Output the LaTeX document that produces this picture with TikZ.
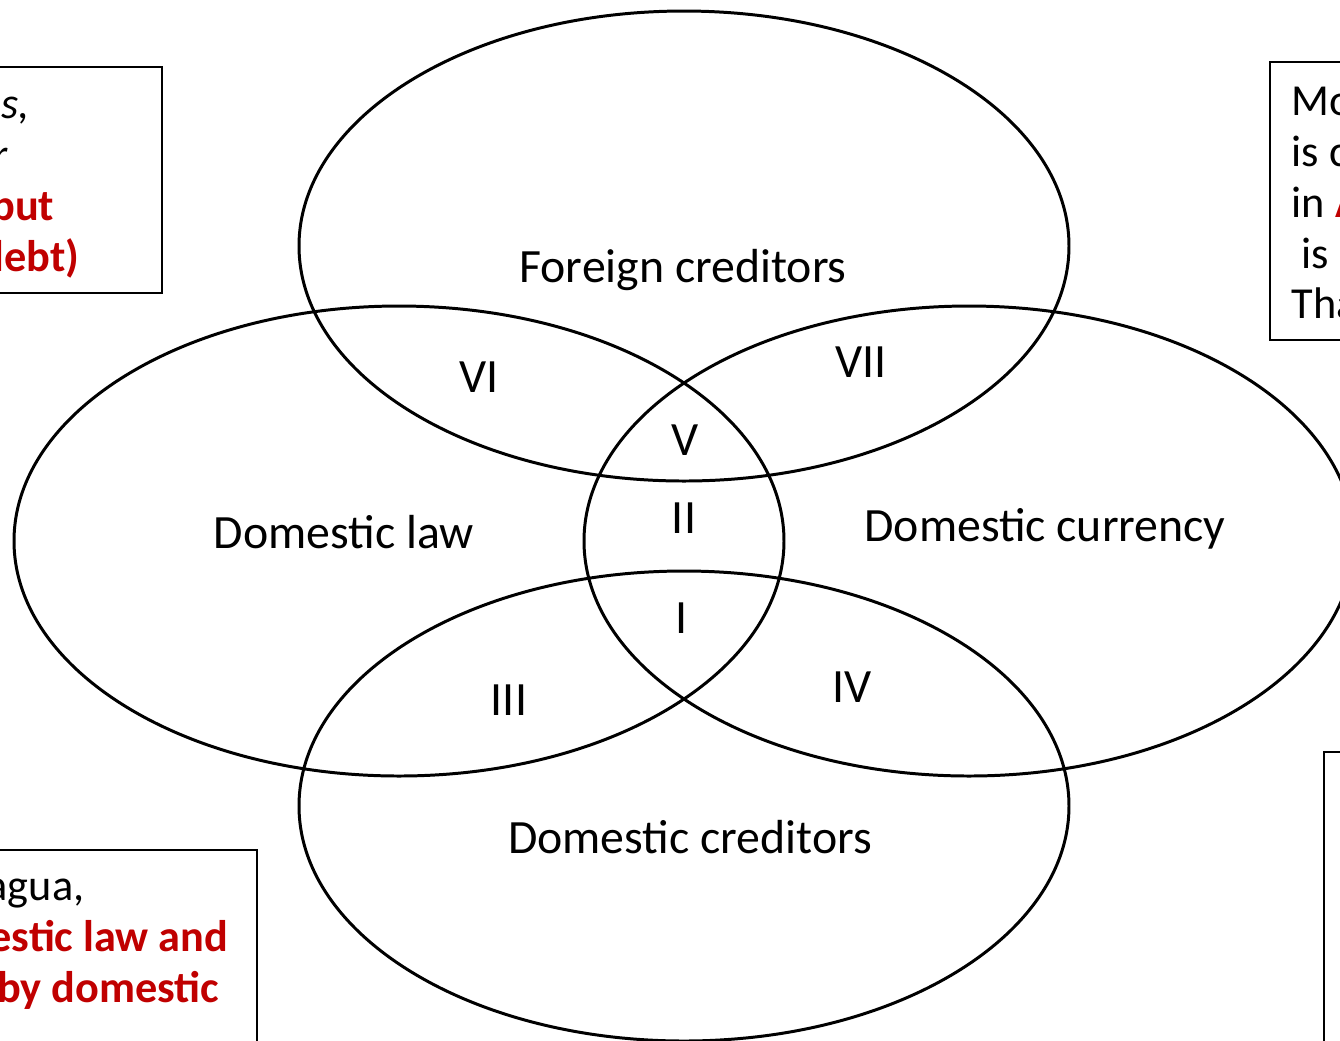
\documentclass[tikz,border=0pt]{standalone}
\usepackage{fontspec}
\setmainfont{Carlito}
\usetikzlibrary{shapes.geometric}
\definecolor{darkred}{HTML}{C00000}

\begin{document}
\begin{tikzpicture}[x=0.1mm,y=-0.1mm,
  set/.style={ellipse,draw,line width=0.85pt,minimum width=77mm,minimum height=47mm,inner sep=0pt},
  lbl/.style={anchor=base,inner sep=0pt,font=\fontsize{13.6}{16}\selectfont},
  note/.style={inner sep=0pt,font=\fontsize{12.6}{14.5}\selectfont},
  hl/.style={note,text=darkred,font=\fontsize{12.6}{14.5}\selectfont\bfseries},
  frame/.style={draw,line width=0.6pt}]
  \useasboundingbox (0,0) rectangle (1340,1040);
  \clip (0,0) rectangle (1340,1040);

  % the four sets
  \node (foreign)  at (684,246) [set] {};
  \node (law)      at (399,541) [set] {};
  \node (currency) at (969,541) [set] {};
  \node (domestic) at (684,806) [set] {};

  \node (foreign-lbl)  at (683,282) [lbl] {Foreign creditors};
  \node (law-lbl)      at (344,548) [lbl] {Domestic law};
  \node (currency-lbl) at (1045,541) [lbl] {Domestic currency};
  \node (domestic-lbl) at (690,853) [lbl] {Domestic creditors};

  \node (r1) at (682,633) [lbl] {I};
  \node (r2) at (684,533) [lbl] {II};
  \node (r3) at (509,715) [lbl] {III};
  \node (r4) at (852,702) [lbl] {IV};
  \node (r5) at (685,455) [lbl] {V};
  \node (r6) at (479,392) [lbl] {VI};
  \node (r7) at (861,377) [lbl] {VII};

  % side notes, only partly in view
  \draw[frame] (-20,67) rectangle (162,293);
  \node (tl1) at (30,118)  [note,anchor=base east] {\itshape os,};
  \node (tl2) at (8,169)   [note,anchor=base east] {\itshape r};
  \node (tl3) at (55,220)  [hl,anchor=base east] {but};
  \node (tl4) at (80,271)  [hl,anchor=base east] {debt)};

  \draw[frame] (1270,62) rectangle (1360,340);
  \node (tr1) at (1291,115) [note,anchor=base west] {Mo};
  \node (tr2) at (1291,166) [note,anchor=base west] {is c};
  \node (tr3) at (1291,217) [note,anchor=base west] {in \textcolor{darkred}{\bfseries A}};
  \node (tr4) at (1301,268) [note,anchor=base west] {is i};
  \node (tr5) at (1291,318) [note,anchor=base west] {Tha};

  \draw[frame] (-20,850) rectangle (257,1060);
  \node (bl1) at (85,900)   [note,anchor=base east] {agua,};
  \node (bl2) at (229,951)  [hl,anchor=base east] {estic law and};
  \node (bl3) at (220,1002) [hl,anchor=base east] {by domestic};

  \draw[frame] (1324,752) rectangle (1360,1060);
\end{tikzpicture}
\end{document}
